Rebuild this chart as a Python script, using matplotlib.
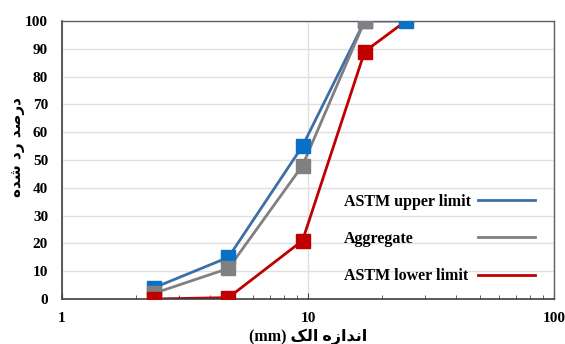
import matplotlib
matplotlib.use("Agg")
import matplotlib.pyplot as plt
from matplotlib.ticker import FixedLocator, NullFormatter, LogLocator

sieve = [2.36, 4.75, 9.5, 17, 25]
upper = [4, 15, 55, 100, 100]
aggregate = [2, 11, 48, 100]
lower = [0, 0.5, 21, 89, 100]
series_labels = ["ASTM upper limit", "Aggregate", "ASTM lower limit"]
yticks = [0, 10, 20, 30, 40, 50, 60, 70, 80, 90, 100]
xticks = [1, 10, 100]

# Persian labels in visual order with presentation forms
ylabel = "\uFEE9\uFEAA\uFEB7 \uFEA9\uFEAD \uFEAA\uFEBB\uFEAD\uFEA9"
xlabel = "(mm) \uFB8F\uFEDF\uFE8D \uFEE9\uFEAF\uFE8D\uFEAA\uFEE7\uFE8D"

fig = plt.figure(figsize=(5.65, 3.44), dpi=100)
ax = fig.add_axes([0.1097, 0.1308, 0.8708, 0.8082])

c_blue_line = "#3C6EA8"
c_blue_mk = "#0A70C4"
c_gray = "#808080"
c_red = "#C00000"

lb, = ax.plot(sieve, upper, color=c_blue_line, lw=2, zorder=2)
lg, = ax.plot(sieve[:len(aggregate)], aggregate, color=c_gray, lw=2, zorder=2.1)
lr, = ax.plot(sieve, lower, color=c_red, lw=2, zorder=2.2)

ax.plot(sieve, upper, ls="none", marker="s", ms=10, color=c_blue_mk, zorder=3)
ax.plot(sieve[:len(aggregate)], aggregate, ls="none", marker="s", ms=10, color=c_gray, zorder=4)
ax.plot(sieve[:4], lower[:4], ls="none", marker="s", ms=10, color=c_red, zorder=5)

ax.set_xscale("log")
ax.set_xlim(1, 100)
ax.set_ylim(0, 100)
ax.xaxis.set_major_locator(FixedLocator(xticks))
ax.set_xticklabels([str(v) for v in xticks])
ax.xaxis.set_minor_locator(LogLocator(base=10, subs=range(2, 10)))
ax.xaxis.set_minor_formatter(NullFormatter())
ax.set_yticks(yticks)
ax.set_yticklabels([str(v) for v in yticks])

for lab in ax.get_xticklabels() + ax.get_yticklabels():
    lab.set_fontfamily("Liberation Serif")
    lab.set_fontweight("bold")
    lab.set_fontsize(11)

ax.tick_params(axis="y", length=0, pad=10)
ax.tick_params(axis="x", which="major", direction="in", length=4, pad=9, color="#444444")
ax.tick_params(axis="x", which="minor", direction="in", length=3, color="#444444")

ax.grid(axis="y", color="#E0E0E0", lw=1)
ax.grid(axis="x", which="major", color="#E0E0E0", lw=1)
ax.set_axisbelow(True)

for s in ["left", "bottom"]:
    ax.spines[s].set_color("#404040")
    ax.spines[s].set_linewidth(1.2)
for s in ["top", "right"]:
    ax.spines[s].set_color("#606060")
    ax.spines[s].set_linewidth(1)

ax.set_ylabel(ylabel, fontfamily="DejaVu Sans", fontweight="bold", fontsize=11)
ax.yaxis.set_label_coords(-0.076, 0.545)
ax.set_xlabel(xlabel, fontfamily=["Liberation Serif", "DejaVu Sans"], fontweight="bold", fontsize=11.5, labelpad=3)

leg = ax.legend([lb, lg, lr], series_labels, loc="lower right", bbox_to_anchor=(0.975, 0.03),
                frameon=False, markerfirst=False, handlelength=3.6, handletextpad=0.45,
                labelspacing=1.33, borderaxespad=0,
                prop={"family": "Liberation Serif", "weight": "bold", "size": 11.5})

# left-align legend texts while keeping handles in one column
renderer = fig.canvas.get_renderer()
texts = leg.get_texts()
widths = [t.get_window_extent(renderer).width for t in texts]
maxw = max(widths)
base_sep = 0.45 * 11.5
for col in leg._legend_handle_box.get_children():
    col.align = "left"
    for item, w in zip(col.get_children(), widths):
        item.sep = base_sep + (maxw - w) * 72.0 / fig.dpi

fig.savefig("out.png", dpi=100)
